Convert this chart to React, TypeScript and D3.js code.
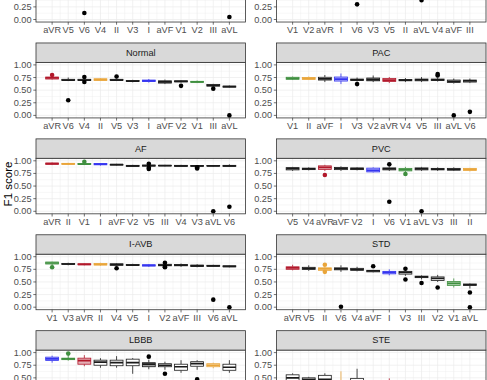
import React from "react";
import * as d3 from "d3";

const W = 487;
const H = 380;

// lead colours (highlighted leads)
const leadColors: Record<string, string> = {
  aVR: "#B2182B",
  II: "#E9A53A",
  V1: "#3F8F3F",
  I: "#3535F0",
};

// ---- Panel 1 (top-left, cut off) ----
const p1Name = "RBBB";
const p1Leads = ["aVR", "V5", "V6", "V4", "II", "V3", "I", "aVF", "V1", "V2", "III", "aVL"];
const p1Boxes = [
  [0.86, 0.88, 0.9, 0.92, 0.94], [0.85, 0.87, 0.89, 0.91, 0.93], [0.84, 0.86, 0.88, 0.9, 0.92],
  [0.84, 0.86, 0.88, 0.9, 0.92], [0.83, 0.85, 0.87, 0.89, 0.91], [0.83, 0.85, 0.87, 0.89, 0.91],
  [0.82, 0.84, 0.86, 0.88, 0.9], [0.82, 0.84, 0.86, 0.88, 0.9], [0.81, 0.83, 0.85, 0.87, 0.89],
  [0.8, 0.82, 0.84, 0.86, 0.88], [0.78, 0.8, 0.82, 0.84, 0.86], [0.76, 0.78, 0.8, 0.82, 0.84],
];
const p1Out: [string, number][] = [["V6", 0.13], ["aVL", 0.05]];
const p1Gray: string[] = [];

// ---- Panel 2 (top-right, cut off) ----
const p2Name = "Average";
const p2Leads = ["V1", "V2", "aVR", "I", "V6", "V3", "V5", "II", "aVL", "V4", "aVF", "III"];
const p2Boxes = [
  [0.74, 0.76, 0.78, 0.8, 0.82], [0.74, 0.76, 0.78, 0.8, 0.82], [0.73, 0.75, 0.77, 0.79, 0.81],
  [0.73, 0.75, 0.77, 0.79, 0.81], [0.72, 0.74, 0.76, 0.78, 0.8], [0.72, 0.74, 0.76, 0.78, 0.8],
  [0.72, 0.74, 0.76, 0.78, 0.8], [0.71, 0.73, 0.75, 0.77, 0.79], [0.7, 0.72, 0.74, 0.76, 0.78],
  [0.7, 0.72, 0.74, 0.76, 0.78], [0.69, 0.71, 0.73, 0.75, 0.77], [0.68, 0.7, 0.72, 0.74, 0.76],
];
const p2Out: [string, number][] = [["V6", 0.3], ["aVL", 0.38]];
const p2Gray: string[] = [];

// ---- Normal ----
const normalLeads = ["aVR", "V6", "V4", "II", "V5", "V3", "I", "aVF", "V2", "V1", "III", "aVL"];
const normalBoxes = [
  [0.71, 0.72, 0.745, 0.76, 0.78], [0.68, 0.69, 0.7, 0.715, 0.75], [0.68, 0.69, 0.7, 0.715, 0.73],
  [0.68, 0.69, 0.71, 0.725, 0.74], [0.68, 0.695, 0.7, 0.715, 0.73], [0.655, 0.67, 0.68, 0.69, 0.705],
  [0.65, 0.67, 0.685, 0.7, 0.72], [0.62, 0.64, 0.665, 0.685, 0.71], [0.65, 0.665, 0.675, 0.685, 0.7],
  [0.64, 0.655, 0.665, 0.675, 0.69], [0.57, 0.58, 0.595, 0.61, 0.625], [0.55, 0.56, 0.57, 0.58, 0.59],
];
const normalOut: [string, number][] = [
  ["aVR", 0.8], ["V6", 0.3], ["V4", 0.76], ["V4", 0.66], ["V5", 0.77], ["V2", 0.585], ["III", 0.53], ["aVL", 0.0],
];
const normalGray = ["aVF"];

// ---- PAC ----
const pacLeads = ["V1", "II", "aVF", "I", "V3", "V2", "aVR", "V4", "V5", "III", "aVL", "V6"];
const pacBoxes = [
  [0.7, 0.715, 0.735, 0.755, 0.77], [0.7, 0.71, 0.735, 0.75, 0.77], [0.66, 0.7, 0.725, 0.755, 0.8],
  [0.62, 0.68, 0.72, 0.76, 0.83], [0.67, 0.69, 0.705, 0.72, 0.75], [0.66, 0.685, 0.71, 0.74, 0.79],
  [0.64, 0.67, 0.7, 0.73, 0.76], [0.66, 0.685, 0.7, 0.71, 0.74], [0.66, 0.685, 0.705, 0.72, 0.76],
  [0.67, 0.69, 0.705, 0.72, 0.75], [0.63, 0.65, 0.675, 0.7, 0.73], [0.64, 0.66, 0.685, 0.7, 0.73],
];
const pacOut: [string, number][] = [
  ["V3", 0.62], ["III", 0.79], ["III", 0.82], ["aVL", 0.0], ["V6", 0.07],
];
const pacGray = ["V2"];

// ---- AF ----
const afLeads = ["aVR", "II", "V1", "I", "aVF", "V2", "V5", "III", "V4", "V3", "aVL", "V6"];
const afBoxes = [
  [0.915, 0.93, 0.945, 0.955, 0.965], [0.915, 0.93, 0.94, 0.95, 0.96], [0.915, 0.925, 0.935, 0.945, 0.96],
  [0.905, 0.92, 0.935, 0.945, 0.955], [0.905, 0.915, 0.925, 0.93, 0.94], [0.88, 0.89, 0.9, 0.91, 0.92],
  [0.885, 0.895, 0.905, 0.915, 0.925], [0.89, 0.9, 0.905, 0.91, 0.92], [0.88, 0.89, 0.9, 0.91, 0.92],
  [0.88, 0.89, 0.9, 0.905, 0.915], [0.885, 0.895, 0.9, 0.905, 0.915], [0.88, 0.89, 0.9, 0.91, 0.93],
];
const afOut: [string, number][] = [
  ["V1", 0.98], ["V5", 0.94], ["V5", 0.86], ["V5", 0.84], ["V3", 0.87], ["V3", 0.85], ["aVL", 0.0], ["V6", 0.09],
];
const afGray = ["V2"];

// ---- PVC ----
const pvcLeads = ["V5", "V4", "aVR", "aVF", "V2", "I", "V6", "V1", "aVL", "V3", "III", "II"];
const pvcBoxes = [
  [0.8, 0.82, 0.845, 0.865, 0.88], [0.81, 0.825, 0.84, 0.855, 0.87], [0.8, 0.83, 0.87, 0.9, 0.92],
  [0.8, 0.825, 0.85, 0.87, 0.89], [0.81, 0.825, 0.84, 0.86, 0.875], [0.77, 0.78, 0.81, 0.855, 0.87],
  [0.8, 0.82, 0.84, 0.86, 0.88], [0.77, 0.8, 0.825, 0.85, 0.88], [0.8, 0.82, 0.84, 0.86, 0.88],
  [0.8, 0.82, 0.835, 0.85, 0.87], [0.8, 0.815, 0.83, 0.85, 0.87], [0.79, 0.81, 0.83, 0.85, 0.86],
];
const pvcOut: [string, number][] = [
  ["aVR", 0.72], ["V6", 0.93], ["V6", 0.19], ["V1", 0.74], ["aVL", 0.0],
];
const pvcGray: string[] = [];

// ---- I-AVB ----
const iavbLeads = ["V1", "V3", "aVR", "II", "V4", "V5", "I", "V2", "aVF", "III", "V6", "aVL"];
const iavbBoxes = [
  [0.82, 0.855, 0.875, 0.895, 0.9], [0.83, 0.845, 0.855, 0.865, 0.88], [0.83, 0.84, 0.85, 0.86, 0.87],
  [0.82, 0.835, 0.85, 0.865, 0.88], [0.81, 0.83, 0.845, 0.86, 0.875], [0.815, 0.825, 0.835, 0.845, 0.86],
  [0.8, 0.815, 0.83, 0.84, 0.855], [0.8, 0.82, 0.835, 0.85, 0.87], [0.8, 0.82, 0.835, 0.845, 0.865],
  [0.79, 0.805, 0.82, 0.835, 0.85], [0.8, 0.81, 0.82, 0.83, 0.84], [0.79, 0.8, 0.81, 0.82, 0.83],
];
const iavbOut: [string, number][] = [
  ["V1", 0.79], ["V4", 0.77], ["V2", 0.88], ["V2", 0.8], ["V2", 0.79], ["V6", 0.15], ["aVL", 0.0],
];
const iavbGray = ["III"];

// ---- STD ----
const stdLeads = ["aVR", "V5", "II", "V6", "V4", "aVF", "I", "V3", "III", "V2", "V1", "aVL"];
const stdBoxes = [
  [0.73, 0.75, 0.78, 0.8, 0.84], [0.72, 0.745, 0.77, 0.79, 0.83], [0.72, 0.73, 0.76, 0.78, 0.8],
  [0.7, 0.74, 0.76, 0.78, 0.83], [0.71, 0.73, 0.75, 0.77, 0.8], [0.69, 0.7, 0.72, 0.73, 0.74],
  [0.63, 0.66, 0.69, 0.71, 0.75], [0.62, 0.655, 0.69, 0.71, 0.74], [0.55, 0.585, 0.6, 0.615, 0.63],
  [0.5, 0.53, 0.57, 0.6, 0.64], [0.39, 0.43, 0.47, 0.51, 0.57], [0.37, 0.43, 0.445, 0.46, 0.47],
];
const stdOut: [string, number][] = [
  ["II", 0.84], ["II", 0.7], ["V6", 0.01], ["aVF", 0.81], ["V3", 0.76], ["V3", 0.55],
  ["III", 0.48], ["V2", 0.39], ["aVL", 0.29], ["aVL", 0.0],
];
const stdGray: string[] = [];

// ---- LBBB ----
const lbbbLeads = ["I", "V1", "aVR", "V5", "V4", "V6", "V3", "V2", "aVF", "III", "II", "aVL"];
const lbbbBoxes = [
  [0.8, 0.845, 0.875, 0.91, 0.94], [0.84, 0.86, 0.875, 0.89, 0.94], [0.73, 0.77, 0.84, 0.89, 0.95],
  [0.7, 0.75, 0.81, 0.85, 0.89], [0.7, 0.74, 0.8, 0.85, 0.93], [0.58, 0.74, 0.8, 0.87, 0.89],
  [0.67, 0.72, 0.77, 0.8, 0.86], [0.66, 0.72, 0.75, 0.78, 0.82], [0.6, 0.65, 0.72, 0.77, 0.85],
  [0.66, 0.73, 0.78, 0.82, 0.85], [0.69, 0.72, 0.75, 0.78, 0.8], [0.6, 0.65, 0.71, 0.77, 0.85],
];
const lbbbOut: [string, number][] = [["V1", 0.98], ["V3", 0.92], ["V2", 0.58], ["III", 0.47]];
const lbbbGray = ["V3"];

// ---- STE ----
const steLeads = ["V5", "V4", "V6", "II", "V3", "V2", "aVR", "aVF", "I", "V1", "III", "aVL"];
const steBoxes = [
  [0.35, 0.42, 0.5, 0.56, 0.59], [0.35, 0.42, 0.46, 0.5, 0.52], [0.35, 0.42, 0.47, 0.55, 0.59],
  [0.15, 0.28, 0.35, 0.43, 0.63], [0.25, 0.35, 0.42, 0.49, 0.68], [0.1, 0.2, 0.28, 0.35, 0.43],
  [0.1, 0.2, 0.3, 0.4, 0.49], [0.1, 0.2, 0.28, 0.34, 0.42], [0.1, 0.18, 0.26, 0.33, 0.41],
  [0.08, 0.16, 0.24, 0.3, 0.4], [0.06, 0.14, 0.22, 0.3, 0.4], [0.05, 0.12, 0.2, 0.28, 0.38],
];
const steOut: [string, number][] = [];
const steGray = ["V4"];

const yTicks = [0, 0.25, 0.5, 0.75, 1];
const yTickLabels = ["0.00", "0.25", "0.50", "0.75", "1.00"];

type Panel = {
  name: string;
  leads: string[];
  boxes: number[][];
  out: [string, number][];
  gray: string[];
  row: number;
  col: number;
};

const panels: Panel[] = [
  { name: p1Name, leads: p1Leads, boxes: p1Boxes, out: p1Out, gray: p1Gray, row: 0, col: 0 },
  { name: p2Name, leads: p2Leads, boxes: p2Boxes, out: p2Out, gray: p2Gray, row: 0, col: 1 },
  { name: "Normal", leads: normalLeads, boxes: normalBoxes, out: normalOut, gray: normalGray, row: 1, col: 0 },
  { name: "PAC", leads: pacLeads, boxes: pacBoxes, out: pacOut, gray: pacGray, row: 1, col: 1 },
  { name: "AF", leads: afLeads, boxes: afBoxes, out: afOut, gray: afGray, row: 2, col: 0 },
  { name: "PVC", leads: pvcLeads, boxes: pvcBoxes, out: pvcOut, gray: pvcGray, row: 2, col: 1 },
  { name: "I-AVB", leads: iavbLeads, boxes: iavbBoxes, out: iavbOut, gray: iavbGray, row: 3, col: 0 },
  { name: "STD", leads: stdLeads, boxes: stdBoxes, out: stdOut, gray: stdGray, row: 3, col: 1 },
  { name: "LBBB", leads: lbbbLeads, boxes: lbbbBoxes, out: lbbbOut, gray: lbbbGray, row: 4, col: 0 },
  { name: "STE", leads: steLeads, boxes: steBoxes, out: steOut, gray: steGray, row: 4, col: 1 },
];

// layout
const colLeft = [36, 276.5];
const panelW = 209.5;
const rowZero = 19.5;
const rowStep = 95.9;
const unitPx = 50.5;
const stripH = 19.4;
const FONT = "'Liberation Sans', Arial, Helvetica, sans-serif";
const tickFont = 9.2;

// only draw texts that fall (at least partly) inside the picture
const visible = (yy: number) => yy > -4 && yy < H + 4;

function PanelView({ p }: { p: Panel }) {
  const left = colLeft[p.col];
  const right = left + panelW;
  const y0 = rowZero + rowStep * p.row;
  const y = d3.scaleLinear().domain([0, 1]).range([y0, y0 - unitPx]);
  const x = d3.scalePoint<string>().domain(p.leads).range([left, right]).padding(1);
  const top = y(1.05);
  const bottom = y(-0.05);
  const step = x.step();
  const bw = step * 0.8;
  const clipId = `clip-${p.row}-${p.col}`;
  const minorY = d3.range(0.125, 1.05, 0.25);
  const stripY = top - stripH / 2;

  return (
    <g>
      <defs>
        <clipPath id={clipId}>
          <rect x={left} y={top} width={panelW} height={bottom - top} />
        </clipPath>
      </defs>
      <rect x={left} y={top} width={panelW} height={bottom - top} fill="#FFFFFF" />
      {/* grid */}
      {minorY.map((v) => (
        <line key={"my" + v} x1={left} x2={right} y1={y(v)} y2={y(v)} stroke="#EBEBEB" strokeWidth={0.4} />
      ))}
      {p.leads.slice(0, -1).map((l, i) => {
        const xm = (x(l)! + x(p.leads[i + 1])!) / 2;
        return <line key={"mx" + l} x1={xm} x2={xm} y1={top} y2={bottom} stroke="#EBEBEB" strokeWidth={0.4} />;
      })}
      {yTicks.map((v) => (
        <line key={"gy" + v} x1={left} x2={right} y1={y(v)} y2={y(v)} stroke="#EBEBEB" strokeWidth={0.7} />
      ))}
      {p.leads.map((l) => (
        <line key={"gx" + l} x1={x(l)} x2={x(l)} y1={top} y2={bottom} stroke="#EBEBEB" strokeWidth={0.7} />
      ))}
      {/* boxes */}
      <g clipPath={`url(#${clipId})`}>
        {p.leads.map((l, i) => {
          const [lo, q1, med, q3, hi] = p.boxes[i];
          const c = leadColors[l] || "#1A1A1A";
          const isColored = !!leadColors[l];
          const fill = isColored ? c : p.gray.includes(l) ? "#9A9A9A" : "#FFFFFF";
          const fillOp = isColored ? 0.35 : 1;
          const cx = x(l)!;
          return (
            <g key={"b" + l}>
              <line x1={cx} x2={cx} y1={y(hi)} y2={y(q3)} stroke={c} strokeWidth={0.8} />
              <line x1={cx} x2={cx} y1={y(q1)} y2={y(lo)} stroke={c} strokeWidth={0.8} />
              <rect x={cx - bw / 2} y={y(q3)} width={bw} height={Math.max(0.5, y(q1) - y(q3))} fill="#FFFFFF" />
              <rect
                x={cx - bw / 2}
                y={y(q3)}
                width={bw}
                height={Math.max(0.5, y(q1) - y(q3))}
                fill={fill}
                fillOpacity={fillOp}
                stroke={c}
                strokeWidth={0.8}
              />
              <line x1={cx - bw / 2} x2={cx + bw / 2} y1={y(med)} y2={y(med)} stroke={c} strokeWidth={1.7} />
            </g>
          );
        })}
        {p.out.map(([l, v], k) => (
          <circle key={"o" + k} cx={x(l)} cy={y(v)} r={2.3} fill={leadColors[l] || "#000000"} />
        ))}
      </g>
      <rect x={left} y={top} width={panelW} height={bottom - top} fill="none" stroke="#333333" strokeWidth={0.8} />
      {/* strip */}
      <rect x={left} y={top - stripH} width={panelW} height={stripH} fill="#D9D9D9" stroke="#333333" strokeWidth={0.8} />
      {visible(stripY) && (
        <text
          x={(left + right) / 2}
          y={stripY}
          textAnchor="middle"
          dominantBaseline="central"
          fontSize={tickFont}
          fill="#1A1A1A"
          fontFamily={FONT}
        >
          {p.name}
        </text>
      )}
      {/* y axis */}
      {yTicks.map((v, i) => (
        <g key={"yt" + v}>
          <line x1={left - 2.7} x2={left} y1={y(v)} y2={y(v)} stroke="#333333" strokeWidth={0.7} />
          {visible(y(v)) && (
            <text
              x={left - 4.4}
              y={y(v)}
              textAnchor="end"
              dominantBaseline="central"
              fontSize={tickFont}
              fill="#4D4D4D"
              fontFamily={FONT}
            >
              {yTickLabels[i]}
            </text>
          )}
        </g>
      ))}
      {/* x axis */}
      {p.leads.map((l) => (
        <g key={"xt" + l}>
          <line x1={x(l)} x2={x(l)} y1={bottom} y2={bottom + 2.7} stroke="#333333" strokeWidth={0.7} />
          {visible(bottom + 9) && (
            <text
              x={x(l)}
              y={bottom + 5}
              textAnchor="middle"
              dominantBaseline="hanging"
              fontSize={tickFont}
              fill="#4D4D4D"
              fontFamily={FONT}
            >
              {l}
            </text>
          )}
        </g>
      ))}
    </g>
  );
}

export default function App() {
  return (
    <svg
      width={W}
      height={H}
      viewBox={`0 0 ${W} ${H}`}
      style={{ position: "absolute", left: 0, top: 0, background: "#FFFFFF" }}
    >
      <rect x={0} y={0} width={W} height={H} fill="#FFFFFF" />
      {panels.map((p) => (
        <PanelView key={p.name} p={p} />
      ))}
      <text
        transform={`translate(7.5, 184) rotate(-90)`}
        textAnchor="middle"
        dominantBaseline="central"
        fontSize={11.5}
        fill="#000000"
        fontFamily={FONT}
      >
        F1 score
      </text>
    </svg>
  );
}
